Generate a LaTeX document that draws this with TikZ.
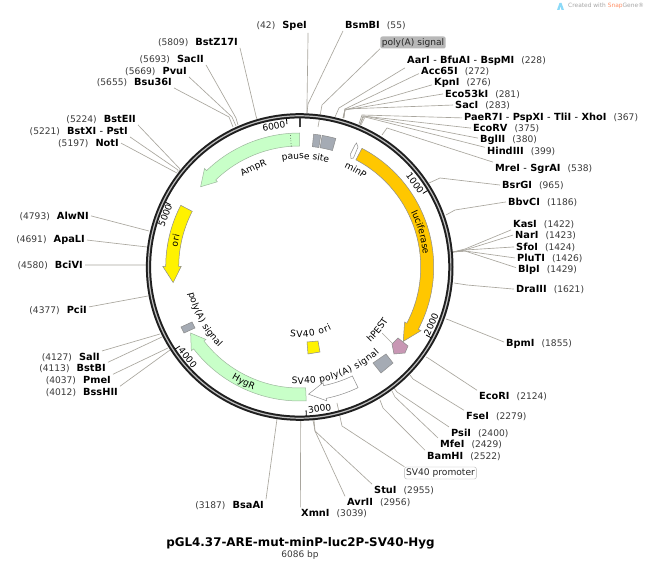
\documentclass[tikz,border=0pt]{standalone}
\usepackage{fontspec}
\setmainfont{DejaVu Sans}
\usetikzlibrary{decorations.text}
\definecolor{sitegrey}{HTML}{A9A69E}
\definecolor{blockgrey}{HTML}{A5ABB4}
\definecolor{edgegrey}{HTML}{8C8C8C}
\definecolor{ampgreen}{HTML}{C8FFC8}
\definecolor{greenedge}{HTML}{9DB89D}
\definecolor{lucorange}{HTML}{FFC700}
\definecolor{pestpink}{HTML}{C897B4}
\definecolor{postext}{HTML}{3A3A3A}
\newcommand{\nmfont}{\fontsize{9.8}{11}\selectfont\bfseries}
\newcommand{\rgfont}{\fontsize{9.1}{11}\selectfont}
\tikzset{
  enzname/.style={inner sep=2pt,font=\nmfont,text=black},
  enzpos/.style={inner sep=0pt,font=\rgfont,text=postext},
  siteline/.style={draw=sitegrey,line width=0.65pt},
  feature/.style={draw=edgegrey,line width=0.5pt},
  ticklabel/.style={inner sep=0pt,font=\rgfont,text=black},
}
% right-hand label: id, name, position, x of text start, y of text centre
\newcommand{\enzR}[5]{%
  \node[enzname,anchor=base west] (#1) at (#4-2,#5+3.6) {#2};
  \node[enzpos,anchor=base west] (#1-p) at ([xshift=4.7pt]#1.base east) {#3};}
\newcommand{\enzL}[5]{%
  \node[enzname,anchor=base east] (#1) at (#4+2,#5+3.6) {#2};
  \node[enzpos,anchor=base east] (#1-p) at ([xshift=-4.7pt]#1.base west) {#3};}
% connector: id, ring point, elbow, anchor on label
\newcommand{\link}[4]{%
  \coordinate (#1-r) at (#2);\coordinate (#1-e) at (#3);
  \draw[siteline] (#1-r) -- (#1-e) -- (#1.#4);}
\newcommand{\linkS}[3]{%
  \coordinate (#1-r) at (#2);
  \draw[siteline] (#1-r) -- (#1.#3);}
% arc arrow: style, tail angle, head base angle, tip angle, wing extra in, out
\newcommand{\arcarrow}[6]{%
  \draw[#1] ({#2-90}:121) -- ({#2-90}:134)
    arc[start angle={#2-90},end angle={#3-90},radius=134]
    -- ({#3-90}:#6) -- ({#4-90}:127.5) -- ({#3-90}:#5) -- ({#3-90}:121)
    arc[start angle={#3-90},end angle={#2-90},radius=121] -- cycle;}
\newcommand{\arcblock}[3]{%
  \draw[feature,fill=#3] ({#1-90}:121) -- ({#1-90}:133.5)
    arc[start angle={#1-90},end angle={#2-90},radius=133.5]
    -- ({#2-90}:121)
    arc[start angle={#2-90},end angle={#1-90},radius=121] -- cycle;}
% text on arc: text, from angle, to angle, radius
\newcommand{\arctext}[4]{%
  \path[decorate,decoration={text along path,text align=center,
     text={|\fontsize{9.1}{11}\selectfont|#1}}]
     ({#2-90}:#4) arc[start angle={#2-90},end angle={#3-90},radius=#4];}
\newcommand{\arcfit}[4]{%
  \path[decorate,decoration={text along path,text align=fit to path,
     text={|\fontsize{9.1}{11}\selectfont|#1}}]
     ({#2-90}:#4) arc[start angle={#2-90},end angle={#3-90},radius=#4];}
\newcommand{\tickmark}[1]{%
  \draw[black,line width=0.8pt] ({#1-90}:143.5) -- ({#1-90}:149);}
\begin{document}
\begin{tikzpicture}[x=1pt,y=-1pt]
\useasboundingbox (0,0) rectangle (649,588);
\fill[white] (0,0) rectangle (649,588);

% labels first (nodes are referenced by connectors)
\enzR{bsmbi}{BsmBI}{(55)}{345}{25}
\enzR{aar}{AarI {\mdseries-} BfuAI {\mdseries-} BspMI}{(228)}{407}{60}
\enzR{acc}{Acc65I}{(272)}{421}{71}
\enzR{kpn}{KpnI}{(276)}{434}{82}
\enzR{ecof}{Eco53kI}{(281)}{445}{94}
\enzR{sac}{SacI}{(283)}{455}{105}
\enzR{pae}{PaeR7I {\mdseries-} PspXI {\mdseries-} TliI {\mdseries-} XhoI}{(367)}{464}{117}
\enzR{ecorv}{EcoRV}{(375)}{473}{128}
\enzR{bgl}{BglII}{(380)}{480}{139}
\enzR{hind}{HindIII}{(399)}{487}{151}
\enzR{mre}{MreI {\mdseries-} SgrAI}{(538)}{495}{168}
\enzR{bsrg}{BsrGI}{(965)}{502}{185}
\enzR{bbv}{BbvCI}{(1186)}{508}{202}
\enzR{kas}{KasI}{(1422)}{513}{224}
\enzR{nar}{NarI}{(1423)}{515}{235}
\enzR{sfo}{SfoI}{(1424)}{516}{247}
\enzR{plu}{PluTI}{(1426)}{517}{258}
\enzR{blp}{BlpI}{(1429)}{518}{269}
\enzR{dra}{DraIII}{(1621)}{516}{289}
\enzR{bpm}{BpmI}{(1855)}{506}{343}
\enzR{ecori}{EcoRI}{(2124)}{479}{396}
\enzR{fse}{FseI}{(2279)}{466}{416}
\enzR{psi}{PsiI}{(2400)}{451}{433}
\enzR{mfe}{MfeI}{(2429)}{440}{444}
\enzR{bam}{BamHI}{(2522)}{427}{456}
\enzR{stu}{StuI}{(2955)}{374}{490}
\enzR{avr}{AvrII}{(2956)}{347}{502}
\enzR{xmn}{XmnI}{(3039)}{301}{513}

\enzL{spe}{SpeI}{(42)}{307}{25}
\enzL{bstz}{BstZ17I}{(5809)}{238}{42}
\enzL{sacii}{SacII}{(5693)}{204}{59}
\enzL{pvu}{PvuI}{(5669)}{187}{71}
\enzL{bsu}{Bsu36I}{(5655)}{172}{82}
\enzL{bste}{BstEII}{(5224)}{136}{119}
\enzL{bstx}{BstXI {\mdseries-} PstI}{(5221)}{128}{131}
\enzL{noti}{NotI}{(5197)}{119}{143}
\enzL{alw}{AlwNI}{(4793)}{89}{216}
\enzL{apa}{ApaLI}{(4691)}{85}{239}
\enzL{bci}{BciVI}{(4580)}{83}{265}
\enzL{pci}{PciI}{(4377)}{87}{310}
\enzL{sal}{SalI}{(4127)}{100}{357}
\enzL{bstb}{BstBI}{(4113)}{106}{368}
\enzL{pme}{PmeI}{(4037)}{111}{380}
\enzL{bss}{BssHII}{(4012)}{118}{392}
\enzL{bsa}{BsaAI}{(3187)}{264}{505}

\node[draw=none,fill=black!28,rounded corners=2pt,inner sep=1.5pt,minimum height=12pt,font=\rgfont,text=black!85] (polyatop) at (413,42.5) {poly(A) signal};
\node[draw=black!30,fill=white,rounded corners=2pt,inner sep=1.5pt,minimum height=12pt,font=\rgfont,text=black!85] (svprom) at (440.5,473) {SV40 promoter};

% connectors
\link{spe}{307,113}{307,104}{-27}
\link{bsmbi}{307,113}{308,104}{south west}
\link{polyatop}{318,127}{322,105}{south west}
\link{aar}{335,117}{339,108}{south west}
\link{acc}{343,118}{345,109}{187}
\link{kpn}{343,118}{345,110}{187}
\link{ecof}{343.5,118}{345,110}{west}
\link{sac}{344,118}{345,109}{west}
\link{pae}{359,124}{362,115}{west}
\link{ecorv}{360,125}{363,116}{west}
\link{bgl}{360,125}{364,116}{173}
\link{hind}{361,125}{365,117}{170}
\link{mre}{382,135}{387,128}{north west}
\link{bsrg}{429,183}{440,178}{west}
\link{bbv}{446,215}{455,210}{west}
\link{kas}{453,252}{465,249}{south west}
\link{nar}{453,252}{465,250}{west}
\link{sfo}{453,252}{465,250}{west}
\link{plu}{453,252}{465,251}{west}
\link{blp}{453,252}{465,251}{170}
\link{dra}{454,283}{467,285}{west}
\link{bpm}{446,319}{449,320}{173}
\link{ecori}{426,357}{428,358}{north west}
\link{fse}{410,375}{413,379}{north west}
\link{psi}{394,388}{397,392}{north west}
\link{mfe}{392,391}{395,397}{north west}
\link{bam}{380,400}{383,408}{north west}
\link{svprom}{337,403}{342,426}{north west}
\link{stu}{314,420}{315,431}{north west}
\link{avr}{313,420}{315,431}{north west}
\linkS{xmn}{300.7,421}{159}
\linkS{bsa}{277,419}{north east}
\link{bstz}{257,119}{256,116}{south east}
\link{sacii}{238,125}{236,118}{south east}
\link{pvu}{236,126}{232,117}{south east}
\link{bsu}{233,127}{229,117}{south east}
\link{bste}{179.5,171}{180,169}{south east}
\link{bstx}{178,172}{178,170}{south east}
\link{noti}{177,173}{175,172}{east}
\linkS{alw}{149,231}{east}
\linkS{apa}{147,247}{east}
\linkS{bci}{146,265}{east}
\linkS{pci}{148,296}{14}
\linkS{sal}{160,334}{north east}
\linkS{bstb}{162,337}{north east}
\linkS{pme}{168,348}{north east}
\linkS{bss}{170,350}{north east}

\begin{scope}[shift={(299.7,267)}]
  % backbone
  \draw[black!88,line width=5.2pt] (0,0) circle[radius=151.2];
  \draw[black!25,line width=1.2pt] (0,0) circle[radius=151.2];
  % ticks
  \draw[black!75,line width=1.6pt] (-90:139.5) -- (-90:149);
  \tickmark{59.15}\tickmark{118.3}\tickmark{177.45}\tickmark{236.6}\tickmark{295.75}\tickmark{354.9}
  \node[ticklabel,rotate=-54] (t1) at ({54-90}:142.5) {1000};
  \node[ticklabel,rotate=66.5] (t2) at ({113.5-90}:143.5) {2000};
  \node[ticklabel,rotate=8] (t3) at ({172-90}:143) {3000};
  \node[ticklabel,rotate=-51] (t4) at ({231-90}:144) {4000};
  \node[ticklabel,rotate=69] (t5) at ({291-90}:144) {5000};
  \node[ticklabel,rotate=10.4] (t6) at ({349.6-90}:143) {6000};

  % features
  \arcarrow{feature,draw=greenedge,fill=ampgreen}{360}{316}{309}{118.5}{137}
  \draw[black!80,dotted,line width=0.6pt] ({356-90}:121) -- ({356-90}:134);
  \arcarrow{feature,fill=yellow}{297.4}{270.3}{263}{118.5}{137}
  \arcarrow{feature,fill=lucorange}{27.7}{117.7}{125.7}{118.5}{137}
  \arcarrow{feature,draw=greenedge,fill=ampgreen}{177.2}{232.3}{238.8}{118.5}{137}
  \arcarrow{feature,fill=white}{154.2}{168.6}{176}{118}{136.5}
  \arcblock{6}{9.1}{blockgrey}
  \arcblock{9.7}{15.7}{blockgrey}
\end{scope}
% small features in picture coordinates
\draw[feature,fill=white] (356.5,143) -- (358,147) -- (353.5,158) -- (351,158.5) -- (350.5,154) -- (355,145) -- cycle;
\draw[feature,fill=blockgrey] (386,354) -- (393,363) -- (381,373) -- (373,363) -- cycle;
\draw[feature,fill=blockgrey] (181,327) -- (192,322) -- (195,328) -- (184,333) -- cycle;
\draw[feature,fill=pestpink] (398,338) -- (408,346) -- (405,353) -- (394,354) -- (392,344) -- cycle;
\draw[feature,fill=yellow] (307,342) -- (318,341) -- (320,352) -- (308,354) -- cycle;

\begin{scope}[shift={(299.7,267)}]
  \arctext{pause site}{-20}{26}{108}
  \arctext{AmpR}{-50}{0}{107}
  \arctext{minP}{5}{55}{109}
  \arctext{luciferase}{44}{104}{124}
  \arctext{ori}{262}{302}{124}
  \arctext{HygR}{236}{176}{131}
  \arcfit{SV40 poly(A) signal}{184}{137}{117}
  \arctext{poly(A) signal}{285}{197}{114}
  \arcfit{SV40 ori}{188}{153}{70.5}
  \arctext{hPEST}{155}{103}{103.5}
\end{scope}
\node[inner sep=0pt,minimum size=2pt] (hpestlabel) at (381,332) {};
\coordinate (hpestfeature) at (392,343);
\draw[siteline,line width=0.6pt] (hpestlabel) -- (hpestfeature);

% title
\node[inner sep=0pt,font=\fontsize{11.9}{14}\selectfont\bfseries] (title) at (300.5,543) {pGL4.37-ARE-mut-minP-luc2P-SV40-Hyg};
\node[inner sep=0pt,font=\fontsize{9}{11}\selectfont,text=postext] (size) at (300,555) {6086 bp};

% watermark
\fill[cyan!45] (557,10) -- (559.5,3) -- (561.5,3) -- (564,10) -- (561.5,10) -- (560.5,6) -- (559.5,10) -- cycle;
\node[inner sep=0pt,anchor=west,font=\fontsize{5.9}{7}\selectfont,text=black!35] (mark) at (568,6.3) {Created with {\color{red!45!orange!60}Snap}Gene®};
\end{tikzpicture}
\end{document}
